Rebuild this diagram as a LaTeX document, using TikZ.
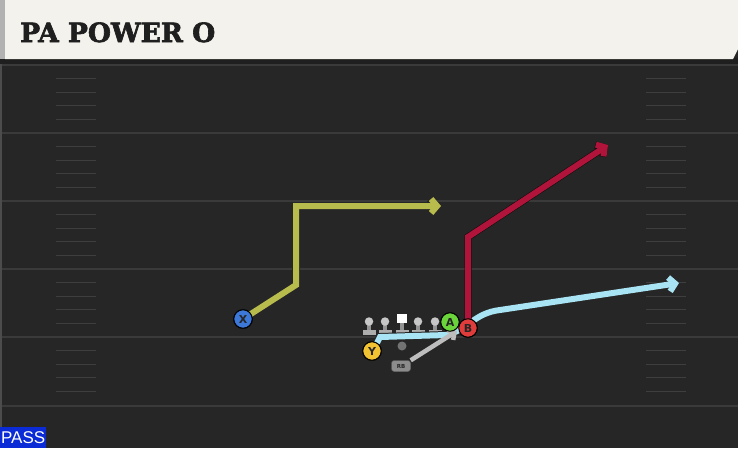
\documentclass[tikz,border=0pt]{standalone}
\usepackage{fontspec}
\setmainfont{DejaVu Sans}
\newfontfamily\titlefont[FakeBold=2.4]{DejaVu Serif}
\newfontfamily\passfont{Liberation Sans}
\usetikzlibrary{arrows.meta}
\definecolor{field}{HTML}{262626}
\definecolor{cream}{HTML}{F4F2EC}
\definecolor{yline}{HTML}{3A3A3A}
\definecolor{hash}{HTML}{3E3E3E}
\definecolor{xblue}{HTML}{3C78D8}
\definecolor{yyel}{HTML}{F1C232}
\definecolor{agreen}{HTML}{6AD43A}
\definecolor{bred}{HTML}{E03C3C}
\definecolor{yroute}{HTML}{B8BC4C}
\definecolor{rroute}{HTML}{B0143A}
\definecolor{broute}{HTML}{A8E4F4}
\definecolor{groute}{HTML}{BDBDBD}
\definecolor{passblue}{HTML}{0A2BD6}
\tikzset{
  player/.style={circle, draw=black, line width=1pt, minimum size=18.5pt, inner sep=0pt, font=\bfseries\fontsize{11}{11}\selectfont, text=black!85},
  rbbox/.style={rounded corners=2.5pt, fill=black!45, draw=black!75, minimum width=19pt, minimum height=11pt, inner sep=0pt, font=\bfseries\fontsize{5.5}{5.5}\selectfont, text=black!85},
  outline/.style={line width=8pt, draw=black!85, line join=miter},
  route/.style={line width=6pt, line join=miter},
  tip/.style={-{Straight Barb[length=6pt,width=14pt]}},
  yard/.style={draw=yline, line width=2.2pt},
  hashmark/.style={draw=hash, line width=1.3pt},
}
\begin{document}
\begin{tikzpicture}[x=1pt,y=-1pt]
\useasboundingbox (0,0) rectangle (738,448);
% field
\fill[field] (0,0) rectangle (738,448);
\fill[black!88] (0,58) rectangle (738,64);
\fill[black!70!white] (0,64) rectangle (2,448);
% yard lines and hash marks
\foreach \yy in {65,133,201,269,337,406} {
  \draw[yard] (2,\yy) -- (738,\yy);
}
\foreach \yy in {65,133,201,269,337} {
  \foreach \k in {1,2,3,4} {
    \draw[hashmark] (56,\yy+13.6*\k) -- (96,\yy+13.6*\k);
    \draw[hashmark] (646,\yy+13.6*\k) -- (686,\yy+13.6*\k);
  }
}
% header
\fill[cream] (5,0) -- (738,0) -- (738,49) -- (733,59) -- (5,59) -- cycle;
\fill[black!30] (0,0) rectangle (5,59);
\node[anchor=base west, inner sep=0pt, font=\titlefont\bfseries\fontsize{26.5}{26.5}\selectfont, text=black!88] (title) at (20,42) {PA POWER O};
% players
\node[player, fill=xblue] (X) at (243,319) {X};
\node[player, fill=yyel] (Y) at (372,351) {Y};
\node[player, fill=agreen] (A) at (450,322) {A};
\node[player, fill=bred] (B) at (468,328) {B};
\node[rbbox] (RB) at (401,366) {RB};
\node[circle, fill=black!55, minimum size=9pt, inner sep=0pt] (QB) at (402,346) {};
% linemen
\foreach \xx/\nm in {369/L1,385/L2,418/L4,435/L5} {
  \fill[black!32] (\xx-6.5,329.5) rectangle (\xx+6.5,334.5);
  \fill[black!42] (\xx-2,323) rectangle (\xx+2,330);
  \node[circle, fill=black!22, minimum size=8.5pt, inner sep=0pt] (\nm) at (\xx,321.5) {};
}
\fill[black!32] (395.5,329.5) rectangle (408.5,334.5);
\fill[black!42] (400,322) rectangle (404,330);
\node[fill=white, minimum size=9.5pt, inner sep=0pt] (C) at (402,318.5) {};
% coordinates
\coordinate (x1) at (296,285);
\coordinate (x2) at (296,206);
\coordinate (x3) at (441,206);
\coordinate (b1) at (468,237);
\coordinate (b2) at (608,145);
\coordinate (y0) at (377,343);
\coordinate (y1) at (380,337);
\coordinate (y2) at (446,335);
\coordinate (y3) at (679,283);
\coordinate (rbend) at (457,331);
% yellow route X
\draw[outline, tip] (X.center) -- (x1) -- (x2) -- (x3);
\draw[route, yroute, tip] (X.center) -- (x1) -- (x2) -- (x3);
% blue route Y
\draw[outline, tip] (y0) -- (y1) -- (y2) .. controls (468,330) and (474,313) .. (500,310) -- (y3);
\draw[route, broute, tip] (y0) -- (y1) -- (y2) .. controls (468,330) and (474,313) .. (500,310) -- (y3);
% red route B
\draw[outline, draw=black!70!field, line width=7pt, tip] (B.center) -- (b1) -- (b2);
\draw[route, rroute, tip] (B.center) -- (b1) -- (b2);
% gray RB
\draw[line width=4.5pt, groute, -{Straight Barb[length=5pt,width=11pt]}] (RB.north east) -- (rbend);
% redraw players on top
\node[player, fill=xblue] at (X) {X};
\node[player, fill=yyel] at (Y) {Y};
\node[player, fill=agreen] at (A) {A};
\node[player, fill=bred] at (B) {B};
\node[rbbox] at (RB) {RB};
% pass label
\node[fill=passblue, anchor=south west, minimum width=46pt, minimum height=21pt, inner sep=0pt, font=\passfont\fontsize{17}{17}\selectfont, text=white] (pass) at (0,448) {PASS};
\end{tikzpicture}
\end{document}
